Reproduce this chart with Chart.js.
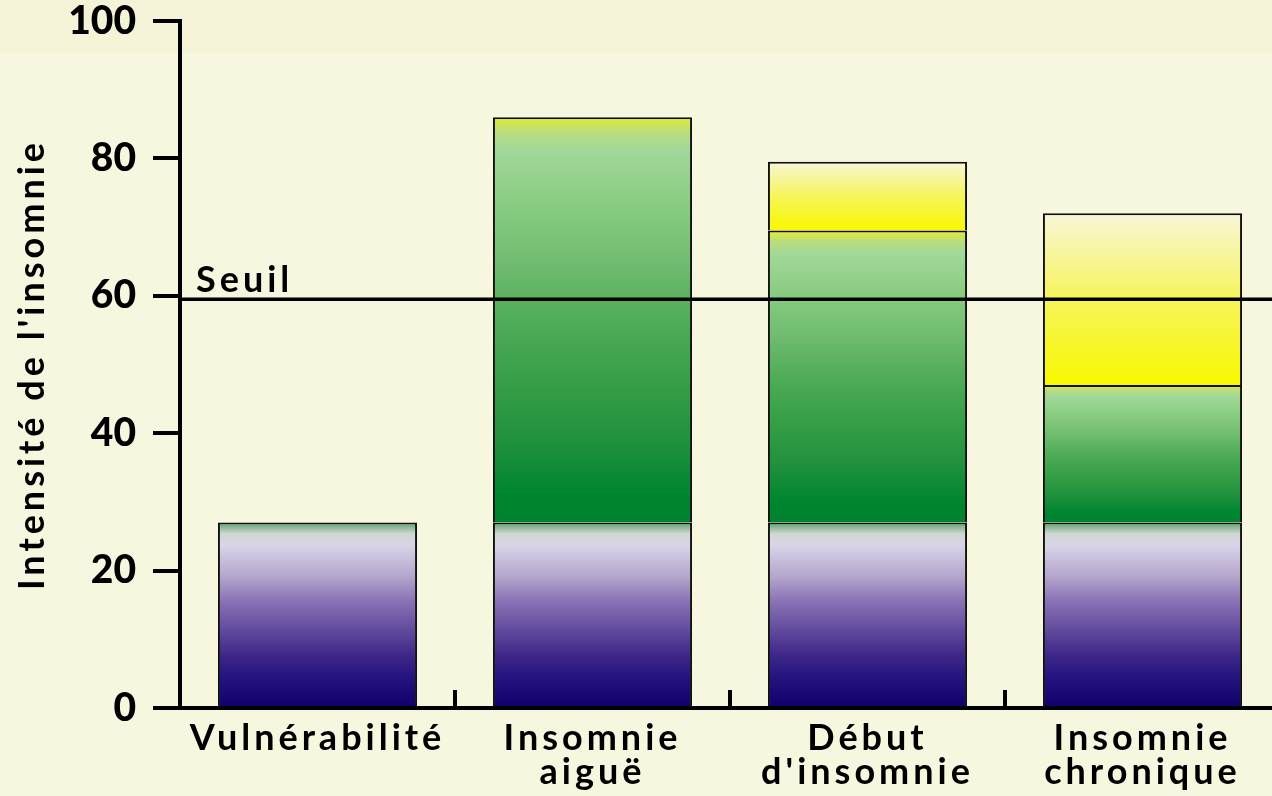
<!DOCTYPE html>
<html>
<head>
<meta charset="utf-8">
<script src="https://cdn.jsdelivr.net/npm/chart.js@4.4.1/dist/chart.umd.min.js"></script>
<style>
  html, body { margin: 0; padding: 0; overflow: hidden; }
  body { background: linear-gradient(#f5f3d7 0px, #f5f3d7 53px, #f7f6df 53px); }
  #wrap { width: 1280px; height: 796px; }
</style>
</head>
<body>
<div id="wrap"><canvas id="myChart" width="1280" height="796"></canvas></div>
<script>
// categories and series (facteurs prédisposants / précipitants / perpétuants)
const categories = [['Vulnérabilité'], ['Insomnie', 'aiguë'], ['Début', "d'insomnie"], ['Insomnie', 'chronique']];
const predisposants = [27, 27, 27, 27];
const precipitants = [null, 59, 42.5, 20];
const perpetuants = [null, null, 10, 25];
const seuil = 59.5;
const yTicks = [0, 20, 40, 60, 80, 100];

const series = [predisposants, precipitants, perpetuants];

const stopsPurple = [[0, '#10006c'], [0.17, '#261480'], [0.29, '#40288a'], [0.44, '#6650a0'], [0.57, '#8870b4'],
  [0.71, '#b4a6cc'], [0.88, '#dad4e8'], [0.94, '#cfd6d2'], [1, '#58a468']];
const stopsGreen = [[0, '#00822e'], [0.07, '#008530'], [0.21, '#22923e'], [0.36, '#38a048'], [0.5, '#50ac58'],
  [0.64, '#70bc70'], [0.78, '#88cc80'], [0.92, '#a2d898'], [0.96, '#b8dc80'], [1, '#e2ec30']];
const stopsYellow = [[0, '#f8f800'], [0.5, '#f6f45a'], [1, '#f8f6d8']];
const allStops = [stopsPurple, stopsGreen, stopsYellow];

function fillFor(context) {
  const chart = context.chart;
  const area = chart.chartArea;
  const di = context.datasetIndex;
  if (!area || context.type !== 'data') return allStops[di][0][1];
  const i = context.dataIndex;
  let lo = 0;
  for (let k = 0; k < di; k++) lo += series[k][i] || 0;
  const hi = lo + (series[di][i] || 0);
  const y = chart.scales.y;
  const g = chart.ctx.createLinearGradient(0, y.getPixelForValue(lo), 0, y.getPixelForValue(hi));
  allStops[di].forEach(s => g.addColorStop(s[0], s[1]));
  return g;
}

const seuilPlugin = {
  id: 'seuil',
  beforeLayout(chart) { chart.ctx.letterSpacing = '4px'; },
  beforeDraw(chart) { chart.ctx.letterSpacing = '4px'; },
  afterDatasetsDraw(chart) {
    const c = chart.ctx;
    const a = chart.chartArea;
    const py = chart.scales.y.getPixelForValue(seuil);
    c.save();
    c.strokeStyle = '#000';
    c.lineWidth = 3.5;
    c.beginPath();
    c.moveTo(a.left, py);
    c.lineTo(chart.width, py);
    c.stroke();
    c.fillStyle = '#000';
    c.font = 'bold 36px Lato';
    c.textBaseline = 'alphabetic';
    c.fillText('Seuil', a.left + 16, py - 7);
    // category separators pointing up from the x axis
    const x = chart.scales.x;
    c.lineWidth = 4;
    for (let i = 0; i < categories.length - 1; i++) {
      const px = (x.getPixelForTick(i) + x.getPixelForTick(i + 1)) / 2;
      c.beginPath();
      c.moveTo(px, a.bottom);
      c.lineTo(px, a.bottom - 18);
      c.stroke();
    }
    c.restore();
    // y tick numbers (drawn after this, z: 1) are not spaced
    c.letterSpacing = '0px';
  }
};

const ctx = document.getElementById('myChart');
const myChart = new Chart(ctx, {
  type: 'bar',
  data: {
    labels: categories,
    datasets: series.map((s, k) => ({
      label: ['Prédisposants', 'Précipitants', 'Perpétuants'][k],
      data: s,
      backgroundColor: fillFor,
      borderColor: '#111',
      borderWidth: 2,
      borderSkipped: 'bottom',
      barPercentage: 0.724,
      categoryPercentage: 1
    }))
  },
  options: {
    responsive: false,
    animation: false,
    devicePixelRatio: 1,
    layout: { padding: { top: 21, right: 0, bottom: 0, left: 0 } },
    plugins: { legend: { display: false }, tooltip: { enabled: false } },
    scales: {
      x: {
        stacked: true,
        afterFit(scale) { scale.height = 88; },
        grid: { display: false, drawOnChartArea: false, drawTicks: false },
        border: { display: true, color: '#000', width: 4 },
        ticks: {
          color: '#000',
          padding: 14,
          maxRotation: 0,
          autoSkip: false,
          font: { family: 'Lato', weight: 'bold', size: 36, lineHeight: 0.93 }
        }
      },
      y: {
        stacked: true,
        min: 0,
        max: 100,
        afterFit(scale) { scale.width = 180; scale.paddingTop = 0; scale.paddingBottom = 0; },
        afterBuildTicks(scale) { scale.ticks = yTicks.map(v => ({ value: v })); },
        grid: { drawOnChartArea: false, drawTicks: true, tickLength: 27, color: '#000', lineWidth: 4 },
        border: { display: true, color: '#000', width: 4 },
        ticks: {
          z: 1,
          color: '#000',
          padding: 17,
          font: { family: 'Lato', weight: 900, size: 39, lineHeight: 1 }
        },
        title: {
          display: true,
          text: "Intensité de l'insomnie",
          color: '#000',
          padding: { top: 11 },
          font: { family: 'Lato', weight: 'bold', size: 36, lineHeight: 1.2 }
        }
      }
    }
  },
  plugins: [seuilPlugin]
});
</script>
</body>
</html>
